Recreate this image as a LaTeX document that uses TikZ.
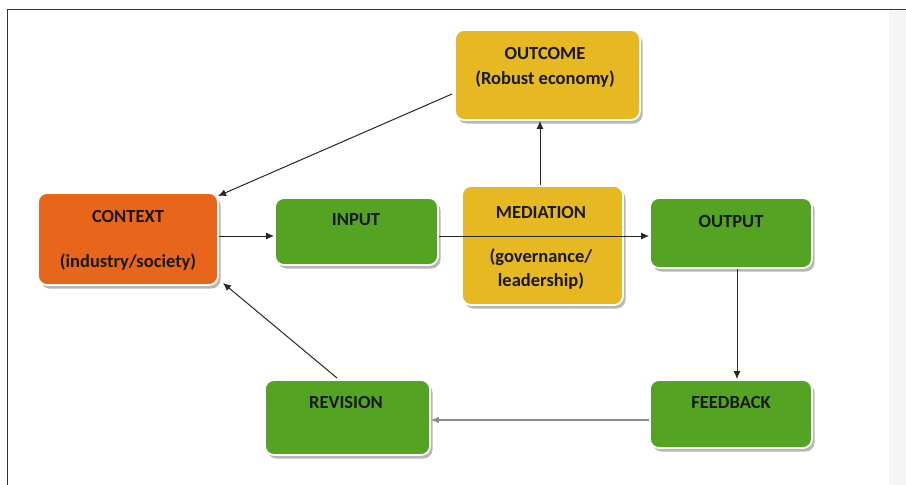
\documentclass[tikz,border=0pt]{standalone}
\usepackage{fontspec}
\setmainfont{Carlito}
\usetikzlibrary{shadows,arrows.meta}
\definecolor{ctxorange}{HTML}{E8661B}
\definecolor{boxgreen}{HTML}{55A322}
\definecolor{boxyellow}{HTML}{E6B822}
\tikzset{
  box/.style={rounded corners=9pt, draw=white, line width=1.8pt, inner sep=0pt,
    drop shadow={shadow xshift=2.5pt, shadow yshift=-3.5pt, fill=black!35, opacity=0.8}},
  lbl/.style={font=\fontsize{18.5}{22}\selectfont\bfseries, text=black!90, inner sep=0pt, align=center},
  conn/.style={-{Latex[length=8pt,width=7pt]}, line width=1pt, black!85},
}
\begin{document}
\begin{tikzpicture}[x=1pt,y=-1pt]
\useasboundingbox (0,0) rectangle (906,485);
\fill[white] (0,0) rectangle (906,485);
\fill[black!4] (889,11) rectangle (906,485);
\draw[line width=1pt, black!80] (7,485) -- (7,9) -- (906,9);

% boxes
\node[box, fill=boxyellow, minimum width=185pt, minimum height=90pt] (outcome) at (547.5,75) {};
\node[box, fill=ctxorange, minimum width=180pt, minimum height=92pt] (context) at (128,239) {};
\node[box, fill=boxgreen, minimum width=163pt, minimum height=67pt] (input) at (356.5,231.5) {};
\node[box, fill=boxyellow, minimum width=161pt, minimum height=119pt] (mediation) at (542.5,245.5) {};
\node[box, fill=boxgreen, minimum width=162pt, minimum height=70pt] (output) at (731,233) {};
\node[box, fill=boxgreen, minimum width=165pt, minimum height=75pt] (revision) at (347.5,417.5) {};
\node[box, fill=boxgreen, minimum width=162pt, minimum height=68pt] (feedback) at (731,414) {};

% texts
\node[lbl] (t-outcome1) at (545,53) {OUTCOME};
\node[lbl] (t-outcome2) at (545,79) {(Robust economy)};
\node[lbl] (t-context1) at (128,216) {CONTEXT};
\node[lbl] (t-context2) at (128,262) {(industry/society)};
\node[lbl] (t-input) at (356,220) {INPUT};
\node[lbl] (t-med1) at (541,212) {MEDIATION};
\node[lbl] (t-med2) at (541,257) {(governance/};
\node[lbl] (t-med3) at (541,281) {leadership)};
\node[lbl] (t-output) at (731,221) {OUTPUT};
\node[lbl] (t-revision) at (346,402) {REVISION};
\node[lbl] (t-feedback) at (731,402) {FEEDBACK};

% connectors
\coordinate (oc-out) at (452,94);
\coordinate (ctx-in1) at (218,196);
\draw[conn] (oc-out) -- (ctx-in1);
\draw[conn] (context.east |- 0,236) -- (input.west |- 0,236);
\draw[conn] (input.east |- 0,236) -- (output.west |- 0,236);
\coordinate (medx) at (540,0);
\draw[conn] (mediation.north -| medx) -- (outcome.south -| medx);
\coordinate (outx) at (737,0);
\draw[conn] (output.south -| outx) -- (feedback.north -| outx);
\draw[conn, black!45, line width=1.4pt] (feedback.west |- 0,420) -- (revision.east |- 0,420);
\coordinate (rev-out) at (337,378);
\coordinate (ctx-in2) at (223,283);
\draw[conn] (rev-out) -- (ctx-in2);
\end{tikzpicture}
\end{document}
